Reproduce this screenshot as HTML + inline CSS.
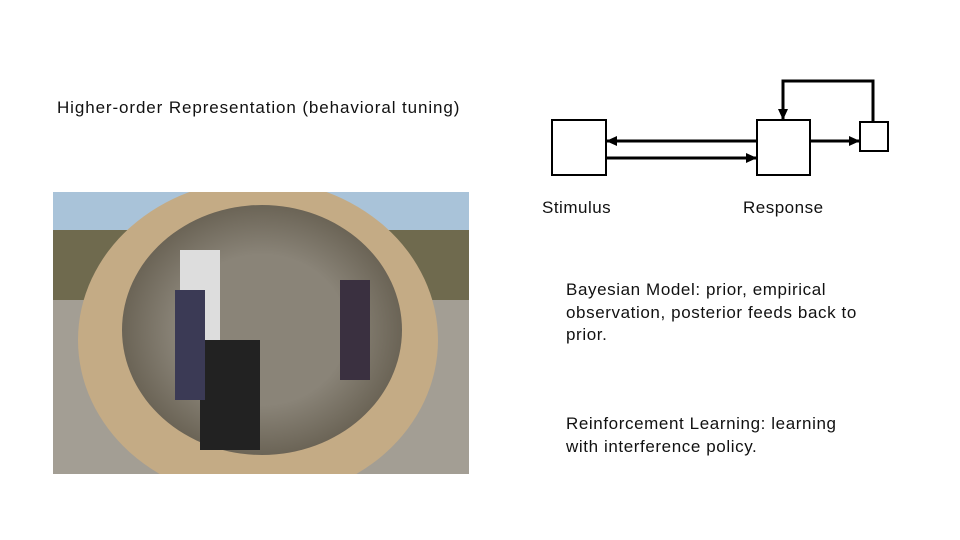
<!DOCTYPE html>
<html><head><style>
body{margin:0;width:960px;height:540px;background:#fff;position:relative;overflow:hidden;font-family:"Liberation Sans",sans-serif;color:#111}
.t{position:absolute;font-size:17px;white-space:nowrap;letter-spacing:0.5px}
.p{position:absolute;font-size:17px;line-height:22.5px;letter-spacing:0.6px}
</style></head><body>
<div class="t" style="left:57px;top:98px;letter-spacing:0.9px">Higher-order Representation (behavioral tuning)</div>
<div class="t" style="left:542px;top:198px">Stimulus</div>
<div class="t" style="left:743px;top:198px">Response</div>
<div class="p" style="left:566px;top:279px;width:305px">Bayesian Model: prior, empirical observation, posterior feeds back to prior.</div>
<div class="p" style="left:566px;top:413px;width:305px">Reinforcement Learning: learning with interference policy.</div>
<svg style="position:absolute;left:0;top:0" width="960" height="540">
<defs><marker id="a" markerWidth="11" markerHeight="10" refX="10" refY="5" orient="auto" markerUnits="userSpaceOnUse"><path d="M0,0 L11,5 L0,10z" fill="#000"/></marker>
<radialGradient id="g" cx="0.5" cy="0.5" r="0.5"><stop offset="0.6" stop-color="#8a8478"/><stop offset="1" stop-color="#6b6456"/></radialGradient>
<clipPath id="c"><rect x="53" y="192" width="416" height="282"/></clipPath></defs>
<g stroke="#000" stroke-width="2" fill="#fff">
<rect x="552" y="120" width="54" height="55"/>
<rect x="757" y="120" width="53" height="55"/>
<rect x="860" y="122" width="28" height="29"/>
</g>
<g stroke="#000" stroke-width="3" fill="none">
<line x1="757" y1="141" x2="607" y2="141" marker-end="url(#a)"/>
<line x1="606" y1="158" x2="756" y2="158" marker-end="url(#a)"/>
<line x1="810" y1="141" x2="859" y2="141" marker-end="url(#a)"/>
<polyline points="873,122 873,81 783,81 783,119" marker-end="url(#a)"/>
</g>
<g clip-path="url(#c)">
<rect x="53" y="192" width="416" height="282" fill="#9a968c"/>
<rect x="53" y="192" width="416" height="60" fill="#a9c3d9"/>
<rect x="53" y="230" width="416" height="70" fill="#6f6a4e"/>
<rect x="53" y="300" width="416" height="174" fill="#a39e94"/>
<ellipse cx="258" cy="340" rx="180" ry="160" fill="#c4ab85"/>
<ellipse cx="262" cy="330" rx="140" ry="125" fill="url(#g)"/>
<rect x="180" y="250" width="40" height="100" fill="#ddd"/>
<rect x="200" y="340" width="60" height="110" fill="#222"/>
<rect x="340" y="280" width="30" height="100" fill="#3a3040"/>
<rect x="175" y="290" width="30" height="110" fill="#3b3a55"/>
</g>
</svg>
</body></html>
